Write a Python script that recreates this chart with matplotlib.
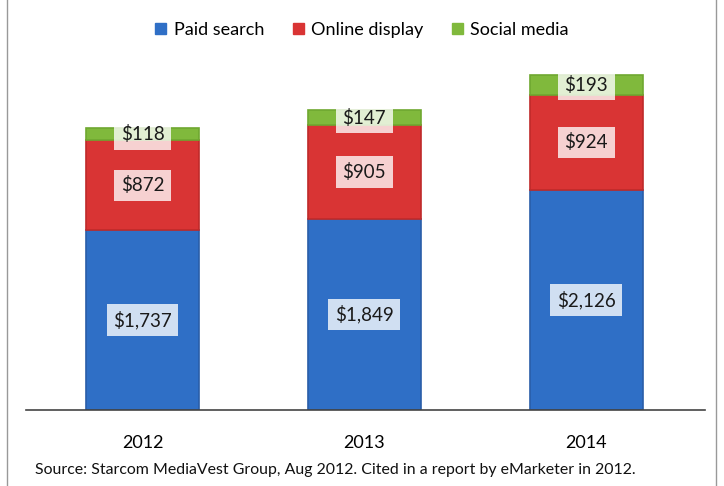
import matplotlib.pyplot as plt
from matplotlib.lines import Line2D
import numpy as np

years = ['2012', '2013', '2014']
paid_search = [1737, 1849, 2126]
online_display = [872, 905, 924]
social_media = [118, 147, 193]

plt.rcParams['font.family'] = ['Lato', 'DejaVu Sans']

fig = plt.figure(figsize=(7.24, 4.86), dpi=100)
ax = fig.add_axes([26/724, 76/486, 679/724, 350/486])

x = np.arange(len(years))
w = 0.51
blue = '#2f6fc6'
red = '#d93434'
green = '#80b93c'

ax.bar(x, paid_search, w, color=blue, edgecolor='#2a5ea8', linewidth=1.2)
bottom2 = np.array(paid_search)
ax.bar(x, online_display, w, bottom=bottom2, color=red, edgecolor='#bf2a2a', linewidth=1.2)
bottom3 = bottom2 + np.array(online_display)
ax.bar(x, social_media, w, bottom=bottom3, color=green, edgecolor='#6fa830', linewidth=1.2)

# value labels on light boxes
box = dict(facecolor='white', alpha=0.78, edgecolor='none', boxstyle='square,pad=0.35')
for i in range(len(years)):
    ax.text(x[i], paid_search[i] / 2, '${:,}'.format(paid_search[i]), ha='center', va='center',
            fontsize=13.5, color='#1a1a1a', bbox=box)
    ax.text(x[i], bottom2[i] + online_display[i] / 2, '${:,}'.format(online_display[i]), ha='center',
            va='center', fontsize=13.5, color='#1a1a1a', bbox=box)
    ax.text(x[i], bottom3[i] + social_media[i] / 2, '${:,}'.format(social_media[i]), ha='center',
            va='center', fontsize=13.5, color='#1a1a1a', bbox=box)

ax.set_xlim(-0.525, 2.535)
ax.set_ylim(0, 3385)
ax.set_xticks(x)
ax.set_xticklabels(years, fontsize=13)
ax.tick_params(axis='x', length=0, pad=18)
ax.set_yticks([])
for s in ['top', 'right', 'left']:
    ax.spines[s].set_visible(False)
ax.spines['bottom'].set_color('#444444')
ax.spines['bottom'].set_linewidth(1.2)

handles = [plt.Rectangle((0, 0), 1, 1, color=c) for c in [blue, red, green]]
fig.legend(handles, ['Paid search', 'Online display', 'Social media'], loc='center',
           bbox_to_anchor=(0.5, 1 - 30/486), ncol=3, frameon=False, fontsize=13,
           handlelength=0.6, handleheight=0.6, handletextpad=0.4, columnspacing=1.6)

fig.text(35/724, 1 - 470/486, 'Source: Starcom MediaVest Group, Aug 2012. Cited in a report by eMarketer in 2012.',
         fontsize=11.4, va='center', ha='left', color='#111111')

fig.add_artist(Line2D([7/724, 7/724], [0, 1], color='#999999', linewidth=1))
fig.add_artist(Line2D([716/724, 716/724], [0, 1], color='#999999', linewidth=1))

fig.savefig('out.png', dpi=100)
